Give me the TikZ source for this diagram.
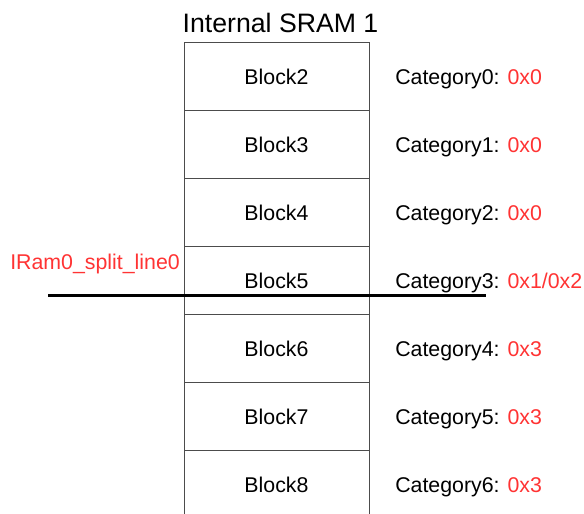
\documentclass[tikz,border=0pt]{standalone}
\usepackage{fontspec}
\setmainfont{Liberation Sans}
\usetikzlibrary{positioning}
\definecolor{valred}{HTML}{FF3333}

\begin{document}
\begin{tikzpicture}[x=0.75pt, y=-0.75pt, every node/.style={font=\fontsize{16}{19}\selectfont},
  block/.style={draw=black!70, line width=0.75pt, minimum width=138.75pt, minimum height=51pt, inner sep=0pt, outer sep=0pt},
  catlabel/.style={anchor=base west, inner sep=0pt}]
    \useasboundingbox (0,0) rectangle (584,513);

    % Titulo de la memoria
    \node[anchor=base, inner sep=0pt, font=\fontsize{20}{24}\selectfont] (title) at (280.5,33) {Internal SRAM 1};

    % Bloques de la SRAM
    \node[block] (b2) at (276.5,76.5) {Block2};
    \node[block] (b3) at (276.5,144.5) {Block3};
    \node[block] (b4) at (276.5,212.5) {Block4};
    \node[block] (b5) at (276.5,280.5) {Block5};
    \node[block] (b6) at (276.5,348.5) {Block6};
    \node[block] (b7) at (276.5,416.5) {Block7};
    \node[block] (b8) at (276.5,484.5) {Block8};

    % Categorias de cada bloque
    \node[catlabel] (c0) at (395,84.5) {Category0: \textcolor{valred}{0x0}};
    \node[catlabel] (c1) at (395,152.5) {Category1: \textcolor{valred}{0x0}};
    \node[catlabel] (c2) at (395,220.5) {Category2: \textcolor{valred}{0x0}};
    \node[catlabel] (c3) at (395,288.5) {Category3: \textcolor{valred}{0x1/0x2}};
    \node[catlabel] (c4) at (395,356.5) {Category4: \textcolor{valred}{0x3}};
    \node[catlabel] (c5) at (395,424.5) {Category5: \textcolor{valred}{0x3}};
    \node[catlabel] (c6) at (395,492.5) {Category6: \textcolor{valred}{0x3}};

    % Linea de division
    \coordinate (splitL) at (48,295.5);
    \coordinate (splitR) at (486,295.5);
    \draw[line width=2.25pt] (splitL) -- (splitR);
    \node[catlabel, text=valred] (splitlabel) at (10,269) {IRam0\_split\_line0};
\end{tikzpicture}
\end{document}
